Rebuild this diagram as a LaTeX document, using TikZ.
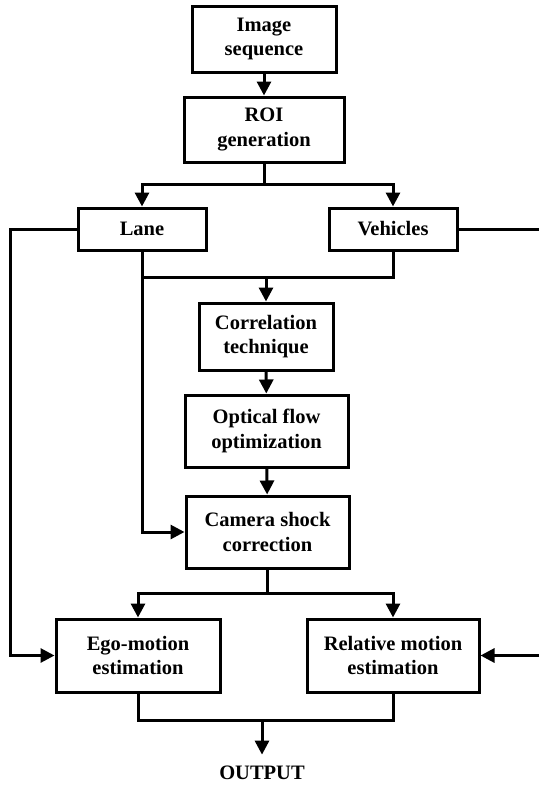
\documentclass[tikz,border=0pt]{standalone}
\usepackage{fontspec}
\setmainfont{Liberation Serif}
\usetikzlibrary{arrows.meta}

\begin{document}
\begin{tikzpicture}[
    x=1pt, y=1pt,
    every node/.style={font=\fontsize{20.5}{24.5}\selectfont\bfseries},
    >={Triangle[width=14pt,length=14pt]},
    line width=3pt,
    blockbox/.style={draw, rectangle, align=center, inner sep=0pt},
]

\useasboundingbox (0,0) rectangle (539,-787);

% === Upper chain ===
\node[blockbox, minimum width=144, minimum height=66] (img) at (264,-39) {Image\\sequence};
\node[blockbox, minimum width=160, minimum height=65] (roi) at (264,-129.5) {ROI\\generation};

% Lane and vehicles
\node[blockbox, minimum width=128, minimum height=42] (lane) at (142,-229) {Lane};
\node[blockbox, minimum width=128, minimum height=42] (veh) at (393,-229) {Vehicles};

% === Middle chain ===
\node[blockbox, minimum width=134, minimum height=67] (corr) at (266,-336.5) {Correlation\\technique};
\node[blockbox, minimum width=163, minimum height=72] (optf) at (266.5,-431) {Optical flow\\optimization};
\node[blockbox, minimum width=163, minimum height=72] (cam) at (267.5,-532) {Camera shock\\correction};

% === Motion estimation ===
\node[blockbox, minimum width=164, minimum height=73] (ego) at (138,-655.5) {Ego-motion\\estimation};
\node[blockbox, minimum width=172, minimum height=73] (rel) at (393,-655.5) {Relative motion\\estimation};
\node[inner ysep=10pt] (out) at (262,-773) {OUTPUT};

% Helper points
\coordinate (split1) at (264,-184);
\coordinate (join1) at (142,-277);
\coordinate (split2) at (267.5,-593);
\coordinate (join2) at (262,-720);
\coordinate (laneL) at (10,-229);
\coordinate (vehR) at (539,-229);
\coordinate (relR) at (539,-655.5);

% === Connectors ===
\draw[->] (img) -- (roi);
\draw[->] (roi.south) -- (split1) -| (lane.north);
\draw[->] (split1) -| (veh.north);

\draw[->] (lane.south) |- (cam.west);
\draw (veh.south) |- (join1);
\draw[->] (corr.north |- join1) -- (corr.north);
\draw[->] (corr) -- (optf);
\draw[->] (optf) -- (cam);

\draw[->] (cam.south) -- (split2) -| (ego.north);
\draw[->] (split2) -| (rel.north);

\draw[->] (lane.west) -- (laneL) |- (ego.west);
\draw (veh.east) -- (vehR);
\draw[->] (relR) -- (rel.east);

\draw (ego.south) |- (join2);
\draw (rel.south) |- (join2);
\draw[->] (join2) -- (out.north);

\end{tikzpicture}
\end{document}
